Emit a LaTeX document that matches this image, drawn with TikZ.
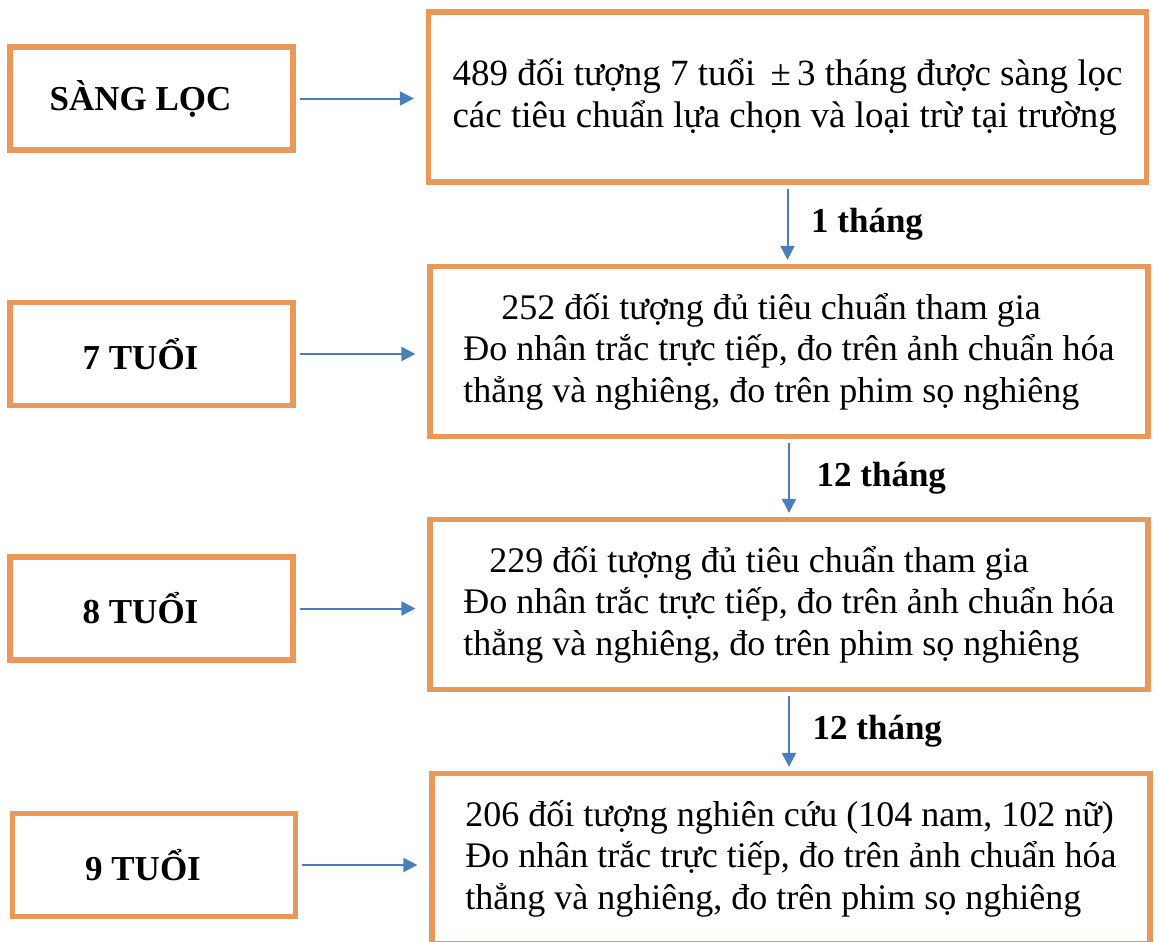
\documentclass[tikz,border=0pt]{standalone}
\usepackage{fontspec}
\setmainfont{Liberation Serif}
\usepackage{tikz}
\usetikzlibrary{arrows.meta, positioning, calc}
\definecolor{boxorange}{HTML}{E8985A}
\definecolor{arrowblue}{HTML}{4A7EBB}

\begin{document}
\begin{tikzpicture}[x=0.5pt, y=-0.5pt,
  agebox/.style={draw=boxorange, line width=2.6pt, minimum width=141.5pt, minimum height=51.5pt,
                 font=\fontsize{17.5}{20}\selectfont\bfseries, execute at end node={\kern11pt}},
  infobox/.style={draw=boxorange, line width=2.6pt, minimum width=359pt, minimum height=85pt,
                  align=left, font=\fontsize{18}{20.8}\selectfont},
  arr/.style={-{Triangle[length=7pt, width=7pt]}, line width=1pt, draw=arrowblue},
  gap/.style={font=\fontsize{17.5}{20}\selectfont\bfseries},
]
  \useasboundingbox (0,0) rectangle (1158,942);

  \node[agebox] (a0) at (151.5,98.5) {SÀNG LỌC};
  \node[agebox] (a1) at (151.5,354) {7 TUỔI};
  \node[agebox] (a2) at (151.5,608.5) {8 TUỔI};
  \node[agebox] (a3) at (154,865) {9 TUỔI};

  \node[infobox, font=\fontsize{18.5}{20.8}\selectfont] (s0) at (787.5,97)
    {489 đối tượng 7 tuổi \,±\,3 tháng được sàng lọc\\
    các tiêu chuẩn lựa chọn và loại trừ tại trường};
  \node[infobox] (s1) at (789,351.5) {\hspace{19pt}252 đối tượng đủ tiêu chuẩn tham gia\\
    Đo nhân trắc trực tiếp, đo trên ảnh chuẩn hóa\\
    thẳng và nghiêng, đo trên phim sọ nghiêng};
  \node[infobox] (s2) at (789,604.5) {\hspace{13pt}229 đối tượng đủ tiêu chuẩn tham gia\\
    Đo nhân trắc trực tiếp, đo trên ảnh chuẩn hóa\\
    thẳng và nghiêng, đo trên phim sọ nghiêng};
  \node[infobox] (s3) at (791,858.5) {206 đối tượng nghiên cứu (104 nam, 102 nữ)\\
    Đo nhân trắc trực tiếp, đo trên ảnh chuẩn hóa\\
    thẳng và nghiêng, đo trên phim sọ nghiêng};

  \draw[arr, shorten <=2pt, shorten >=6pt] (a0.east) -- (a0.east -| s0.west);
  \draw[arr, shorten <=2pt, shorten >=6pt] (a1.east) -- (a1.east -| s1.west);
  \draw[arr, shorten <=2pt, shorten >=6pt] (a2.east) -- (a2.east -| s2.west);
  \draw[arr, shorten <=2pt, shorten >=6pt] (a3.east) -- (a3.east -| s3.west);

  \draw[arr, shorten <=2pt, shorten >=2pt] (s0.south) -- node[right=8pt, gap]{1 tháng} (s0.south |- s1.north);
  \draw[arr, shorten <=2pt, shorten >=2pt] (s1.south) -- node[right=10pt, gap]{12 tháng} (s1.south |- s2.north);
  \draw[arr, shorten <=2pt, shorten >=2pt] (s2.south) -- node[right=8pt, gap]{12 tháng} (s2.south |- s3.north);
\end{tikzpicture}
\end{document}
